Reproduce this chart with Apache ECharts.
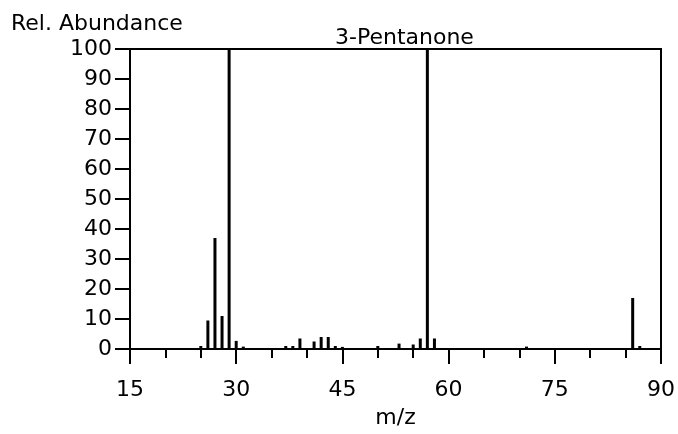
<!DOCTYPE html>
<html>
<head>
<meta charset="utf-8">
<script src="https://cdn.jsdelivr.net/npm/echarts@6/dist/echarts.min.js"></script>
<style>
  html, body { margin: 0; padding: 0; background: #fff; }
  #main { width: 678px; height: 434px; }
</style>
</head>
<body>
<div id="main"></div>
<script>
// mass spectrum of 3-pentanone
const massToCharge = [25, 26, 27, 28, 29, 30, 31, 37, 38, 39, 41, 42, 43, 44, 45, 50, 53, 55, 56, 57, 58, 71, 86, 87];
const relAbundance = [1, 9.5, 37, 11, 100, 2.7, 0.8, 1, 1, 3.5, 2.5, 4, 4, 1, 0.7, 1, 1.8, 1.5, 3.5, 100, 3.5, 0.8, 17, 1];
const xTicks = [15, 30, 45, 60, 75, 90];
const yTicks = [0, 10, 20, 30, 40, 50, 60, 70, 80, 90, 100];

const font = "DejaVu Sans";
const fs = 22;
const chart = echarts.init(document.getElementById("main"), null, { renderer: "canvas" });

const peaks = massToCharge.map((m, i) => [m, relAbundance[i]]);

const option = {
  animation: false,
  backgroundColor: "#fff",
  title: [
    { text: "Rel. Abundance", left: 6, top: 8, textStyle: { fontFamily: font, fontSize: fs, fontWeight: "normal", color: "#000" } },
    { text: "3-Pentanone", left: 330, top: 22, textStyle: { fontFamily: font, fontSize: fs, fontWeight: "normal", color: "#000" } }
  ],
  grid: {
    left: 130, right: 13, top: 49, bottom: 79,
    show: true, borderColor: "#000", borderWidth: 2, backgroundColor: "transparent"
  },
  xAxis: {
    type: "value",
    min: xTicks[0], max: xTicks[xTicks.length - 1], interval: 15,
    name: "m/z", nameLocation: "middle", nameGap: 58,
    nameTextStyle: { fontFamily: font, fontSize: fs, color: "#000" },
    axisLine: { show: true, lineStyle: { color: "#000", width: 2 } },
    axisTick: { show: true, length: 15, lineStyle: { color: "#000", width: 2 } },
    minorTick: { show: true, splitNumber: 3, length: 9, lineStyle: { color: "#000", width: 2 } },
    axisLabel: { margin: 30, fontFamily: font, fontSize: fs, color: "#000" },
    splitLine: { show: false },
    minorSplitLine: { show: false }
  },
  yAxis: {
    type: "value",
    min: yTicks[0], max: yTicks[yTicks.length - 1], interval: 10,
    axisLine: { show: true, lineStyle: { color: "#000", width: 2 } },
    axisTick: { show: true, length: 15, lineStyle: { color: "#000", width: 2 } },
    axisLabel: { margin: 18, fontFamily: font, fontSize: fs, color: "#000" },
    splitLine: { show: false }
  },
  series: [
    {
      type: "bar",
      data: peaks,
      barWidth: 3,
      itemStyle: { color: "#000" },
      emphasis: { disabled: true }
    }
  ]
};

chart.setOption(option);
</script>
</body>
</html>
